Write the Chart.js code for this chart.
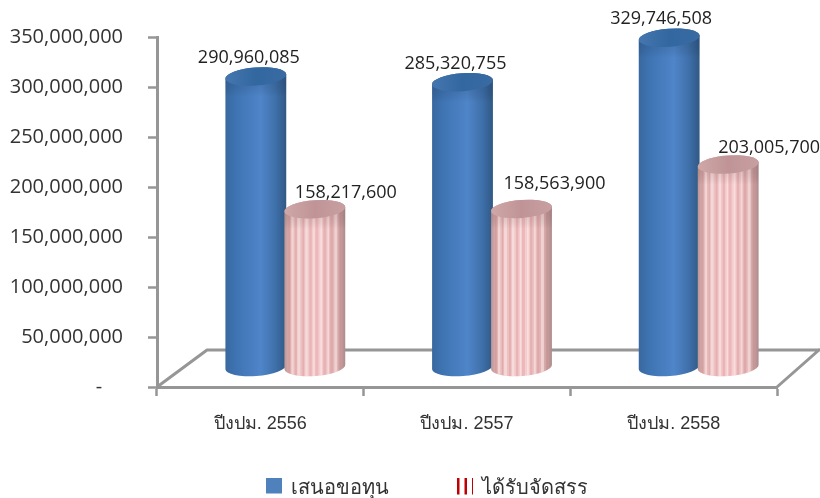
<!DOCTYPE html>
<html><head><meta charset="utf-8">
<style>html,body{margin:0;padding:0;background:#fff}canvas{display:block}</style>
<script src="https://cdn.jsdelivr.net/npm/chart.js@4"></script>
</head><body><canvas id="c" width="820" height="498"></canvas>
<script>
const categories = ['ปีงปม. 2556', 'ปีงปม. 2557', 'ปีงปม. 2558'];
const requested = [290960085, 285320755, 329746508];
const allocated = [158217600, 158563900, 203005700];
const seriesNames = ['เสนอขอทุน', 'ได้รับจัดสรร'];
const yMax = 350000000, yStep = 50000000;

const GRAY = '#969696';
const DEPTH = {x: 25, y: -19.5};
const RX = 30.5, RY = 9, TILT = -0.075;
const NUM_FONT = '"Open Sans", "Noto Sans", sans-serif';
// hand-placed data-label nudges: [dx from cylinder centre, dy from value pixel]
const labelNudge = [
  [[-7,-38],[-7,-38],[-8,-38]],
  [[31,-36],[33,-45],[41,-36]]
];

function swatch(kind){
  const s = document.createElement('canvas'); s.width = 16; s.height = 21;
  const g = s.getContext('2d');
  if(kind===0){ g.fillStyle='#4f81bd'; g.fillRect(0,0,16,16); }
  else { g.fillStyle='#c00000'; g.fillRect(0,0,2.5,17); g.fillRect(7.5,0,2.5,17); g.fillRect(15,0,1,17); }
  return s;
}

function cylPath(ctx,cx,top,base){
  ctx.beginPath();
  ctx.ellipse(cx,base,RX,RY,TILT,0,Math.PI,false);
  ctx.ellipse(cx,top,RX,RY,TILT,Math.PI,0,false);
  ctx.closePath();
}
function drawCylinder(ctx,bar,kind){
  const cx=bar.x, top=bar.y, base=bar.base, l=cx-RX, r=cx+RX;
  ctx.save();
  cylPath(ctx,cx,top,base);
  ctx.clip();
  const g=ctx.createLinearGradient(l,0,r,0);
  if(kind===0){
    g.addColorStop(0,'#38689f'); g.addColorStop(.18,'#3f74b3'); g.addColorStop(.58,'#4f85c9');
    g.addColorStop(.82,'#3f70aa'); g.addColorStop(1,'#305884');
  } else {
    g.addColorStop(0,'#bd9696'); g.addColorStop(.12,'#e6b8b8'); g.addColorStop(.55,'#f8d0d2');
    g.addColorStop(.85,'#e0b2b2'); g.addColorStop(1,'#ad8a8a');
  }
  ctx.fillStyle=g; ctx.fillRect(l-1,top-RY-6,RX*2+2,base-top+2*RY+12);
  if(kind===1){
    const st=[3,4,2,5,3,4,4,2,5,3,4,3,4,5,3,4,3];
    let x=l+4, i=0;
    while(x<r-3){
      const w=st[i%st.length];
      ctx.fillStyle=i%2?'rgba(255,240,240,.5)':'rgba(205,125,128,.28)';
      ctx.fillRect(x,top-RY,w*0.6,base-top+2*RY+4);
      x+=w; i++;
    }
  }
  const sh=ctx.createLinearGradient(0,top,0,top+20);
  sh.addColorStop(0,kind===0?'rgba(30,60,100,.22)':'rgba(130,80,80,.2)');
  sh.addColorStop(1,'rgba(0,0,0,0)');
  ctx.fillStyle=sh; ctx.fillRect(l-1,top-RY,RX*2+2,20+RY);
  ctx.restore();
  ctx.beginPath();
  ctx.ellipse(cx,top,RX,RY,TILT,0,Math.PI*2);
  const c=ctx.createLinearGradient(l,0,r,0);
  if(kind===0){c.addColorStop(0,'#4576b0');c.addColorStop(.5,'#32679f');c.addColorStop(1,'#3a6ba3');}
  else {c.addColorStop(0,'#cfa8a8');c.addColorStop(.5,'#c09496');c.addColorStop(1,'#c8a0a2');}
  ctx.fillStyle=c; ctx.fill();
}

const cylinderPlugin = {
  id:'cyl',
  beforeLayout(chart){
    const lg=chart.legend;
    if(!lg._fitWrapped){
      const f=lg.fit;
      lg.fit=function(){ f.call(this); this.height=52; };
      lg._fitWrapped=true;
    }
  },
  afterLayout(chart){
    const lg=chart.legend;
    lg.top=408; lg.left+=39; lg.right+=39;
  },
  beforeDatasetsDraw(chart){
    const {ctx,scales:{x,y}}=chart;
    const y0=y.getPixelForValue(0);
    ctx.save();
    ctx.strokeStyle=GRAY; ctx.lineWidth=3; ctx.lineJoin='round';
    ctx.beginPath();
    ctx.moveTo(x.left,y0); ctx.lineTo(x.left+50,y0-37); ctx.lineTo(chart.width+2,y0-37);
    ctx.moveTo(x.right,y0); ctx.lineTo(x.right+43,y0-38);
    ctx.stroke();
    ctx.restore();
  },
  beforeDatasetDraw(){ return false; },
  afterDatasetsDraw(chart){
    const ctx=chart.ctx;
    ctx.save();
    ctx.translate(DEPTH.x,DEPTH.y);
    chart.data.datasets.forEach((ds,k)=>{
      chart.getDatasetMeta(k).data.forEach(b=>drawCylinder(ctx,b,k));
    });
    ctx.restore();
    ctx.save();
    ctx.font='18px '+NUM_FONT; ctx.fillStyle='#222'; ctx.textAlign='center'; ctx.textBaseline='middle';
    chart.data.datasets.forEach((ds,k)=>{
      chart.getDatasetMeta(k).data.forEach((b,i)=>{
        const n=labelNudge[k][i];
        ctx.fillText(ds.data[i].toLocaleString('en-US'),b.x+DEPTH.x+n[0],b.y+n[1]);
      });
    });
    ctx.restore();
  }
};

new Chart(document.getElementById('c'),{
  type:'bar',
  data:{labels:categories,datasets:[
    {label:seriesNames[0],data:requested,backgroundColor:'#4f81bd',pointStyle:swatch(0)},
    {label:seriesNames[1],data:allocated,backgroundColor:'#f4c9c9',pointStyle:swatch(1)}
  ]},
  plugins:[cylinderPlugin],
  options:{
    responsive:false,animation:false,
    layout:{padding:{left:0,right:43,top:36,bottom:0}},
    datasets:{bar:{categoryPercentage:0.571,barPercentage:1}},
    plugins:{
      tooltip:{enabled:false},
      legend:{position:'bottom',labels:{
        usePointStyle:true,pointStyleWidth:13,boxHeight:16,padding:70,color:'#333',
        font:{size:20,family:'"Noto Sans", sans-serif'},
        generateLabels(chart){
          return chart.data.datasets.map((d,i)=>({text:d.label,pointStyle:d.pointStyle,datasetIndex:i,fontColor:'#333',hidden:false}));
        }
      }}
    },
    scales:{
      x:{
        afterFit(s){s.height=59;},
        offset:true,
        grid:{offset:true,drawOnChartArea:false,tickLength:9,tickColor:GRAY,tickWidth:2.5},
        border:{color:GRAY,width:3},
        ticks:{padding:17,color:'#333',maxRotation:0,autoSkip:false,font:{size:18,family:'"Liberation Sans", Arial, sans-serif'}}
      },
      y:{
        min:0,max:yMax,
        afterFit(s){s.width=157;},
        grid:{drawOnChartArea:false,tickLength:9,tickColor:GRAY,tickWidth:2.5},
        border:{color:GRAY,width:3},
        ticks:{stepSize:yStep,padding:25,color:'#333',font:{size:20,family:NUM_FONT},
          callback(v){return v===0?'-    ':v.toLocaleString('en-US');}}
      }
    }
  }
});
</script></body></html>
